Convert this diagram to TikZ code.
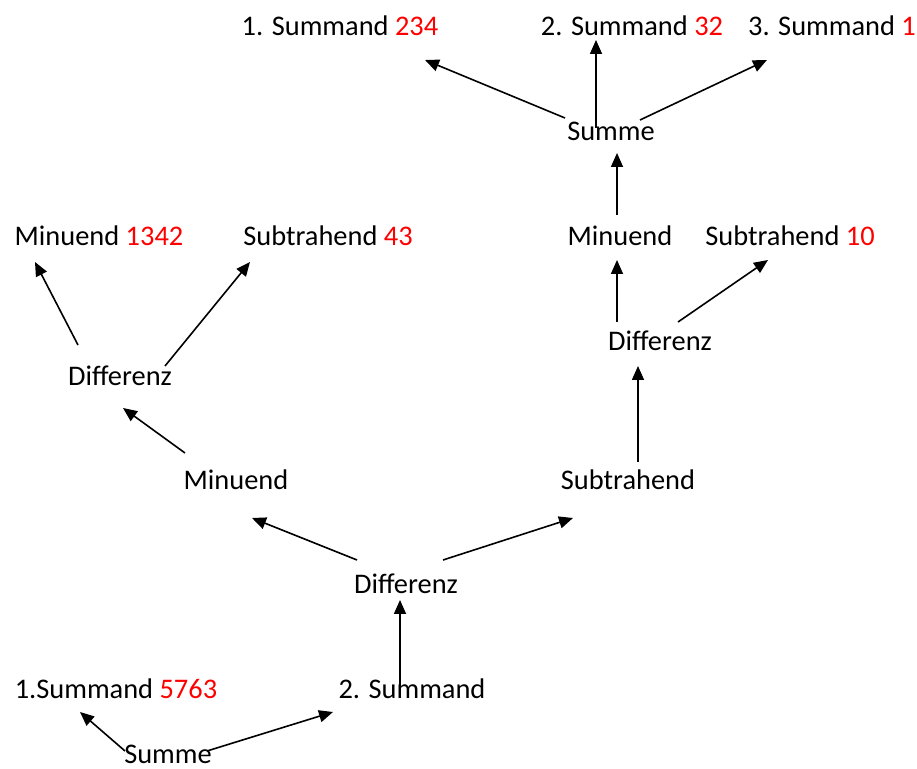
\documentclass[tikz,border=0pt]{standalone}
\usepackage{fontspec}
\setmainfont{Carlito}
\usepackage{xcolor}
\usetikzlibrary{arrows.meta,calc}
\definecolor{numred}{RGB}{255,0,0}

\begin{document}
\begin{tikzpicture}[x=0.5pt,y=-0.5pt,
  lbl/.style={inner sep=0.5pt,font=\fontsize{14.2}{17}\selectfont},
  arr/.style={line width=0.8pt,-{Triangle[length=7pt,width=6pt]}}]
\useasboundingbox (0,0) rectangle (917,769);
% top: Summe with three summands
\node [lbl] (s1) at (340,26) {1. Summand \textcolor{numred}{234}};
\node [lbl] (s2) at (632,26) {2. Summand \textcolor{numred}{32}};
\node [lbl] (s3) at (832,26) {3. Summand \textcolor{numred}{1}};
\node [lbl] (sumT) at (611,131) {Summe};
% right branch
\node [lbl] (minR) at (620,236) {Minuend};
\node [lbl] (subR) at (790,236) {Subtrahend \textcolor{numred}{10}};
\node [lbl] (difR) at (660,341) {Differenz};
\node [lbl] (subM) at (628,480) {Subtrahend};
% left branch
\node [lbl] (minL) at (99,236) {Minuend \textcolor{numred}{1342}};
\node [lbl] (subL) at (328,236) {Subtrahend \textcolor{numred}{43}};
\node [lbl] (difL) at (120,376) {Differenz};
\node [lbl] (minM) at (236,480) {Minuend};
% bottom
\node [lbl] (difC) at (406,584) {Differenz};
\node [lbl] (sa) at (116,689) {1.Summand \textcolor{numred}{5763}};
\node [lbl] (sb) at (412,689) {2. Summand};
\node [lbl] (sumB) at (168,754) {Summe};

\draw [arr] ($(sumT)+(-46,-13)$) -- ($(s1)+(85,34)$);
\draw [arr] ($(sumT)+(-15,-3)$) -- ($(s2)+(-36,14)$);
\draw [arr] ($(sumT)+(29,-11)$) -- ($(s3)+(-65,34)$);
\draw [arr] ($(minR)+(-3,-21)$) -- ($(sumT)+(6,22)$);
\draw [arr] ($(difR)+(-43,-19)$) -- ($(minR)+(-3,24)$);
\draw [arr] ($(difR)+(18,-19)$) -- ($(subR)+(-22,24)$);
\draw [arr] ($(subM)+(10,-18)$) -- ($(difR)+(-22,25)$);
\draw [arr] ($(difL)+(-42,-31)$) -- ($(minL)+(-64,26)$);
\draw [arr] ($(difL)+(45,-10)$) -- ($(subL)+(-78,26)$);
\draw [arr] ($(minM)+(-51,-27)$) -- ($(difL)+(3,32)$);
\draw [arr] ($(difC)+(-49,-24)$) -- ($(minM)+(16,38)$);
\draw [arr] ($(difC)+(37,-24)$) -- ($(subM)+(-55,38)$);
\draw [arr] ($(sb)+(-12,-3)$) -- ($(difC)+(-6,16)$);
\draw [arr] ($(sumB)+(-43,-3)$) -- ($(sa)+(-36,23)$);
\draw [arr] ($(sumB)+(39,-3)$) -- ($(sb)+(-79,23)$);
\end{tikzpicture}
\end{document}
